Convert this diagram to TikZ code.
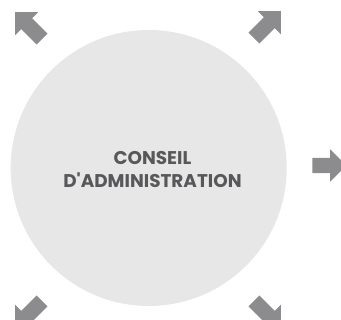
\documentclass[tikz,border=0pt]{standalone}
\usepackage{fontspec}
\setmainfont{Poppins}
\usetikzlibrary{
  shapes.arrows,
  positioning,
}
\definecolor{discgray}{HTML}{E7E7E8}
\definecolor{arrowgray}{HTML}{8C8C8E}
\definecolor{textgray}{HTML}{58585A}
\tikzset{
  outarrow/.style={single arrow, fill=arrowgray, draw=none,
    inner xsep=0pt, inner ysep=7.5pt,
    single arrow head extend=8.5pt, minimum height=38pt},
}

\begin{document}
\begin{tikzpicture}[x=1pt,y=1pt]
      \useasboundingbox (0,0) rectangle (341,320);
      \node[circle, fill=discgray, minimum size=276pt, inner sep=0pt] (conseil) at (148.7,152) {};
      \node[text=textgray, font=\bfseries\fontsize{18.4}{23}\selectfont, align=center] (titre) at (152.5,150.5) {CONSEIL\\D\textquotesingle ADMINISTRATION};
      \node[outarrow, minimum height=34pt] (est) at (325.5,154.5) {};
      \node[outarrow, rotate=45] (nordest) at (264.6,292.6) {};
      \node[outarrow, rotate=135] (nordouest) at (31.4,291.6) {};
      \node[outarrow, rotate=225] (sudouest) at (31.4,8.4) {};
      \node[outarrow, rotate=315] (sudest) at (264.6,8.4) {};
    \end{tikzpicture}
\end{document}
